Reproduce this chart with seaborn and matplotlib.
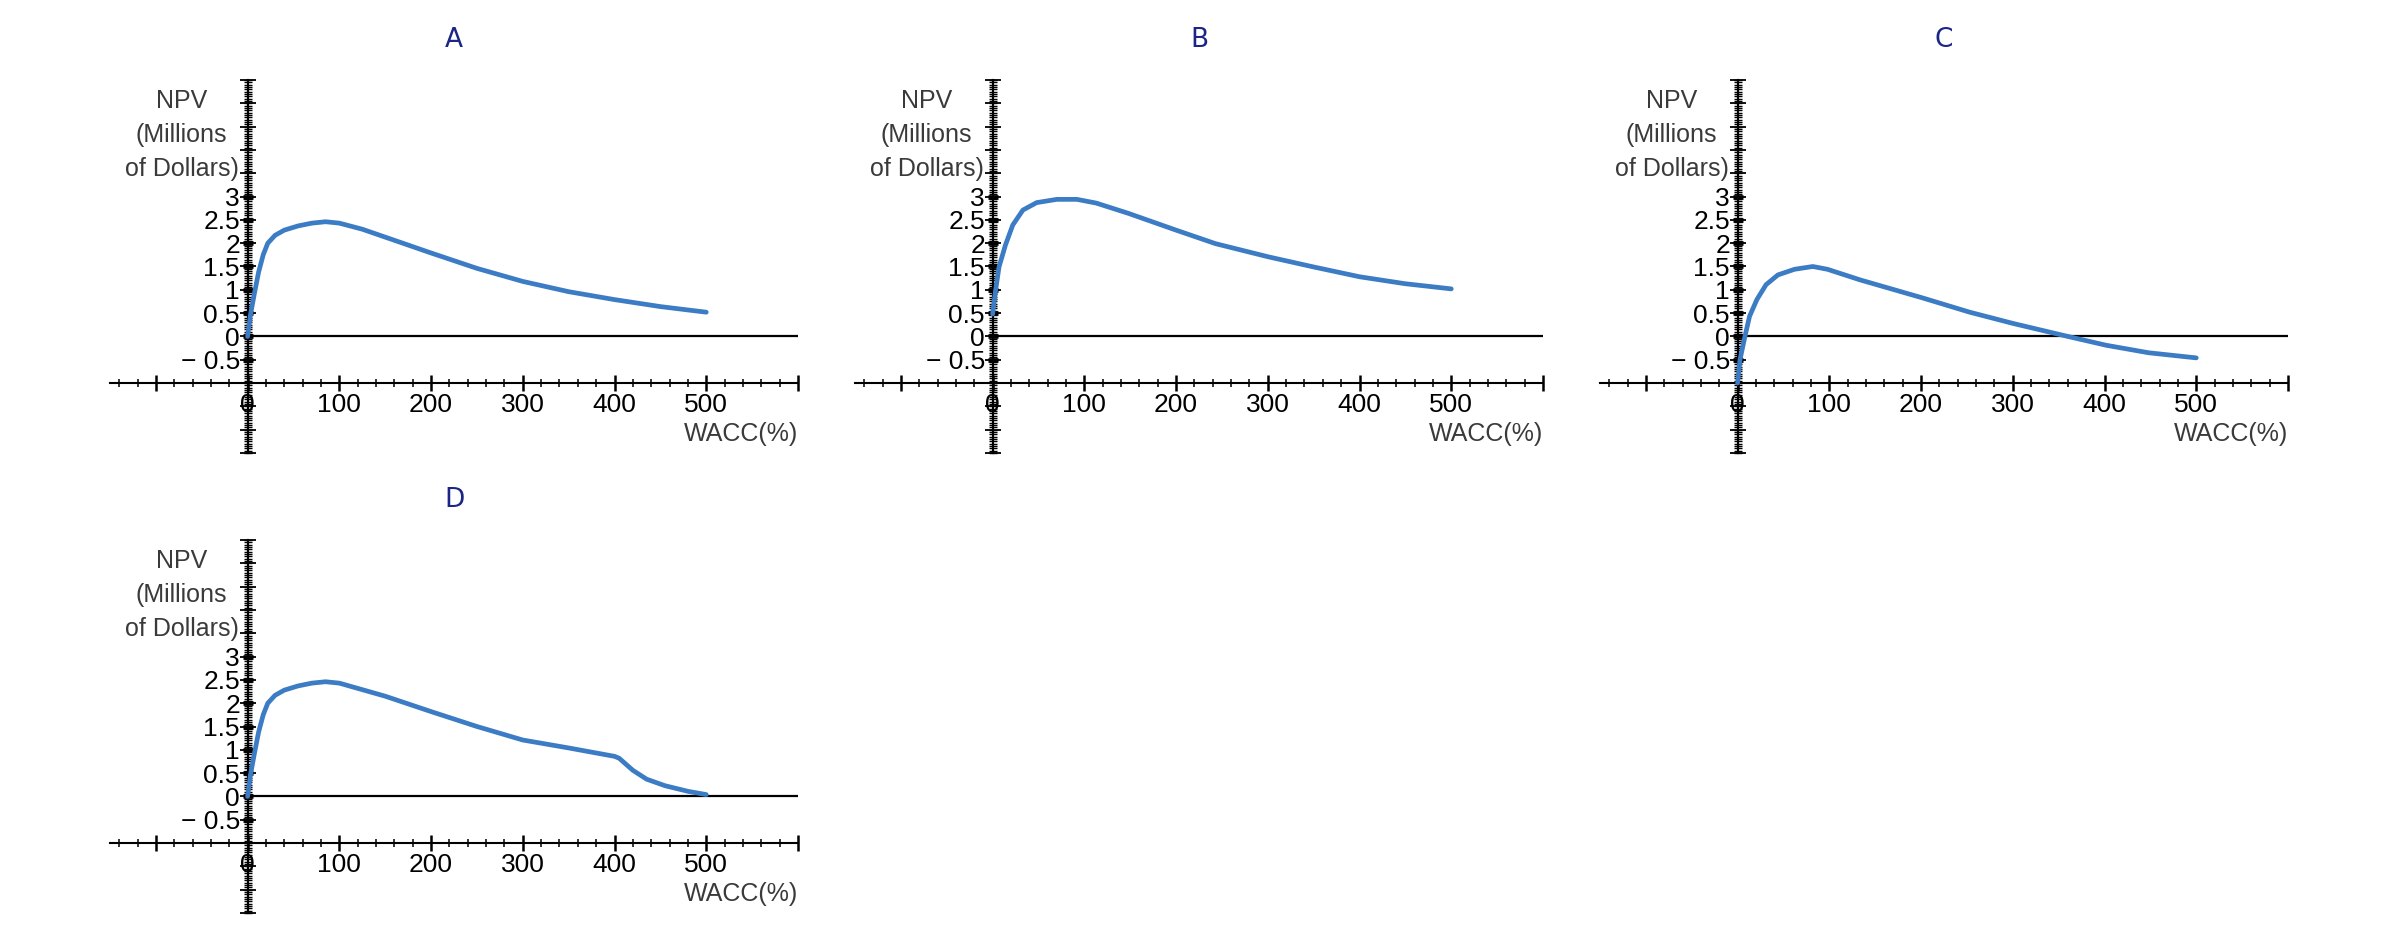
import numpy as np
import seaborn as sns
import matplotlib.pyplot as plt
from matplotlib.ticker import FixedLocator, MultipleLocator

# NPV profiles (WACC in %, NPV in millions of dollars)
wacc_a = [0, 3, 7.5, 12, 17, 22, 30, 40, 55, 70, 85, 100, 125, 150, 175, 200, 250, 300, 350, 400, 450, 500]
npv_a = [0, 0.45, 0.93, 1.38, 1.75, 2.0, 2.17, 2.28, 2.37, 2.43, 2.46, 2.43, 2.3, 2.13, 1.96, 1.79, 1.46, 1.18, 0.96, 0.79, 0.64, 0.52]

wacc_b = [0, 3, 7, 14, 22, 33, 48, 70, 92, 113, 148, 200, 243, 300, 350, 400, 450, 500]
npv_b = [0.48, 0.95, 1.49, 1.96, 2.39, 2.71, 2.87, 2.94, 2.94, 2.86, 2.64, 2.28, 1.99, 1.71, 1.49, 1.28, 1.13, 1.02]

wacc_c = [0, 2.6, 8, 13, 21, 31, 44, 62, 82, 98, 134, 201, 253, 300, 360, 402, 448, 500]
npv_c = [-1.0, -0.5, 0, 0.43, 0.79, 1.11, 1.32, 1.44, 1.5, 1.44, 1.21, 0.83, 0.52, 0.28, 0.0, -0.19, -0.35, -0.46]

wacc_d = [0, 3, 7.5, 12, 17, 22, 30, 40, 55, 70, 85, 100, 150, 200, 250, 300, 350, 400, 405, 420, 435, 455, 480, 500]
npv_d = [0, 0.45, 0.93, 1.38, 1.75, 2.0, 2.17, 2.28, 2.37, 2.43, 2.46, 2.43, 2.15, 1.82, 1.5, 1.21, 1.04, 0.86, 0.82, 0.56, 0.37, 0.23, 0.11, 0.04]

panel_titles = ["A", "B", "C", "D"]

# axis ticks
x_major = [-100, 0, 100, 200, 300, 400, 500, 600]
x_labels = ["", "0", "100", "200", "300", "400", "500", ""]
y_labeled = [-0.5, 0, 0.5, 1, 1.5, 2, 2.5, 3]
y_labels = ["\u2212 0.5", "0", "0.5", "1", "1.5", "2", "2.5", "3"]

CURVE = "#3b7cc4"
NAVY = "#1b2585"

sns.set_style("ticks")
plt.rcParams["font.family"] = ["Liberation Sans Narrow", "Liberation Sans", "DejaVu Sans"]

fig = plt.figure(figsize=(24.04, 9.38), dpi=100)

W, H = 688 / 2404, 373 / 938
rects = [
    [110 / 2404, 485 / 938, W, H],
    [855 / 2404, 485 / 938, W, H],
    [1600 / 2404, 485 / 938, W, H],
    [110 / 2404, 25 / 938, W, H],
]
data = [(wacc_a, npv_a), (wacc_b, npv_b), (wacc_c, npv_c), (wacc_d, npv_d)]


def draw_panel(ax, title, wacc, npv):
    ax.set_xlim(-150, 600)
    ax.set_ylim(-2.5, 5.5)

    # zero reference line from the origin to the end of the axis
    ax.axhline(0, xmin=0.2, xmax=1.0, color="black", lw=1.6, zorder=1)
    sns.lineplot(x=wacc, y=npv, ax=ax, color=CURVE, linewidth=3.4,
                 sort=False, estimator=None, zorder=4, clip_on=False)

    ax.spines[["top", "right"]].set_visible(False)
    ax.spines["left"].set_position(("data", 0))
    ax.spines["bottom"].set_position(("data", -1))
    ax.spines[["left", "bottom"]].set_linewidth(1.5)
    ax.spines[["left", "bottom"]].set_color("black")

    ax.xaxis.set_major_locator(FixedLocator(x_major))
    ax.set_xticklabels(x_labels)
    ax.xaxis.set_minor_locator(MultipleLocator(20))
    ax.tick_params(axis="x", which="major", bottom=True, direction="inout", length=11.5,
                   width=1.8, color="black", labelsize=19, pad=1.5, labelcolor="black")
    ax.tick_params(axis="x", which="minor", bottom=True, direction="inout", length=5.5,
                   width=1.1, color="black")

    ax.yaxis.set_major_locator(FixedLocator(y_labeled))
    ax.set_yticklabels(y_labels)
    ax.yaxis.set_minor_locator(MultipleLocator(0.05))
    ax.tick_params(axis="y", which="major", left=True, direction="inout", length=7,
                   width=3.4, color="black", labelsize=19, pad=2, labelcolor="black")
    ax.tick_params(axis="y", which="minor", left=True, direction="inout", length=5.5,
                   width=1.0, color="black")

    # long thin ticks every 0.5 along the whole vertical axis
    sec = ax.secondary_yaxis(0.2)
    sec.set_yticks(np.arange(-2.5, 5.51, 0.5))
    sec.set_yticklabels([])
    sec.tick_params(left=True, direction="inout", length=11.5, width=1.3, color="black")
    sec.spines["left"].set_linewidth(1.5)
    sec.spines["left"].set_color("black")

    ax.text(-72, 4.32, "NPV\n(Millions\nof Dollars)", ha="center", va="center",
            multialignment="center", fontsize=18, color="#3a3a3a", linespacing=1.55)
    ax.text(600, -2.1, "WACC(%)", ha="right", va="center", fontsize=18, color="#3a3a3a")
    ax.set_title(title, color=NAVY, fontsize=19, pad=24,
                 family=["DejaVu Sans"])
    ax.set_xlabel("")
    ax.set_ylabel("")
    ax.patch.set_alpha(0)


for rect, title, (wacc, npv) in zip(rects, panel_titles, data):
    ax = fig.add_axes(rect)
    draw_panel(ax, title, wacc, npv)

fig.savefig("out.png", dpi=100)
